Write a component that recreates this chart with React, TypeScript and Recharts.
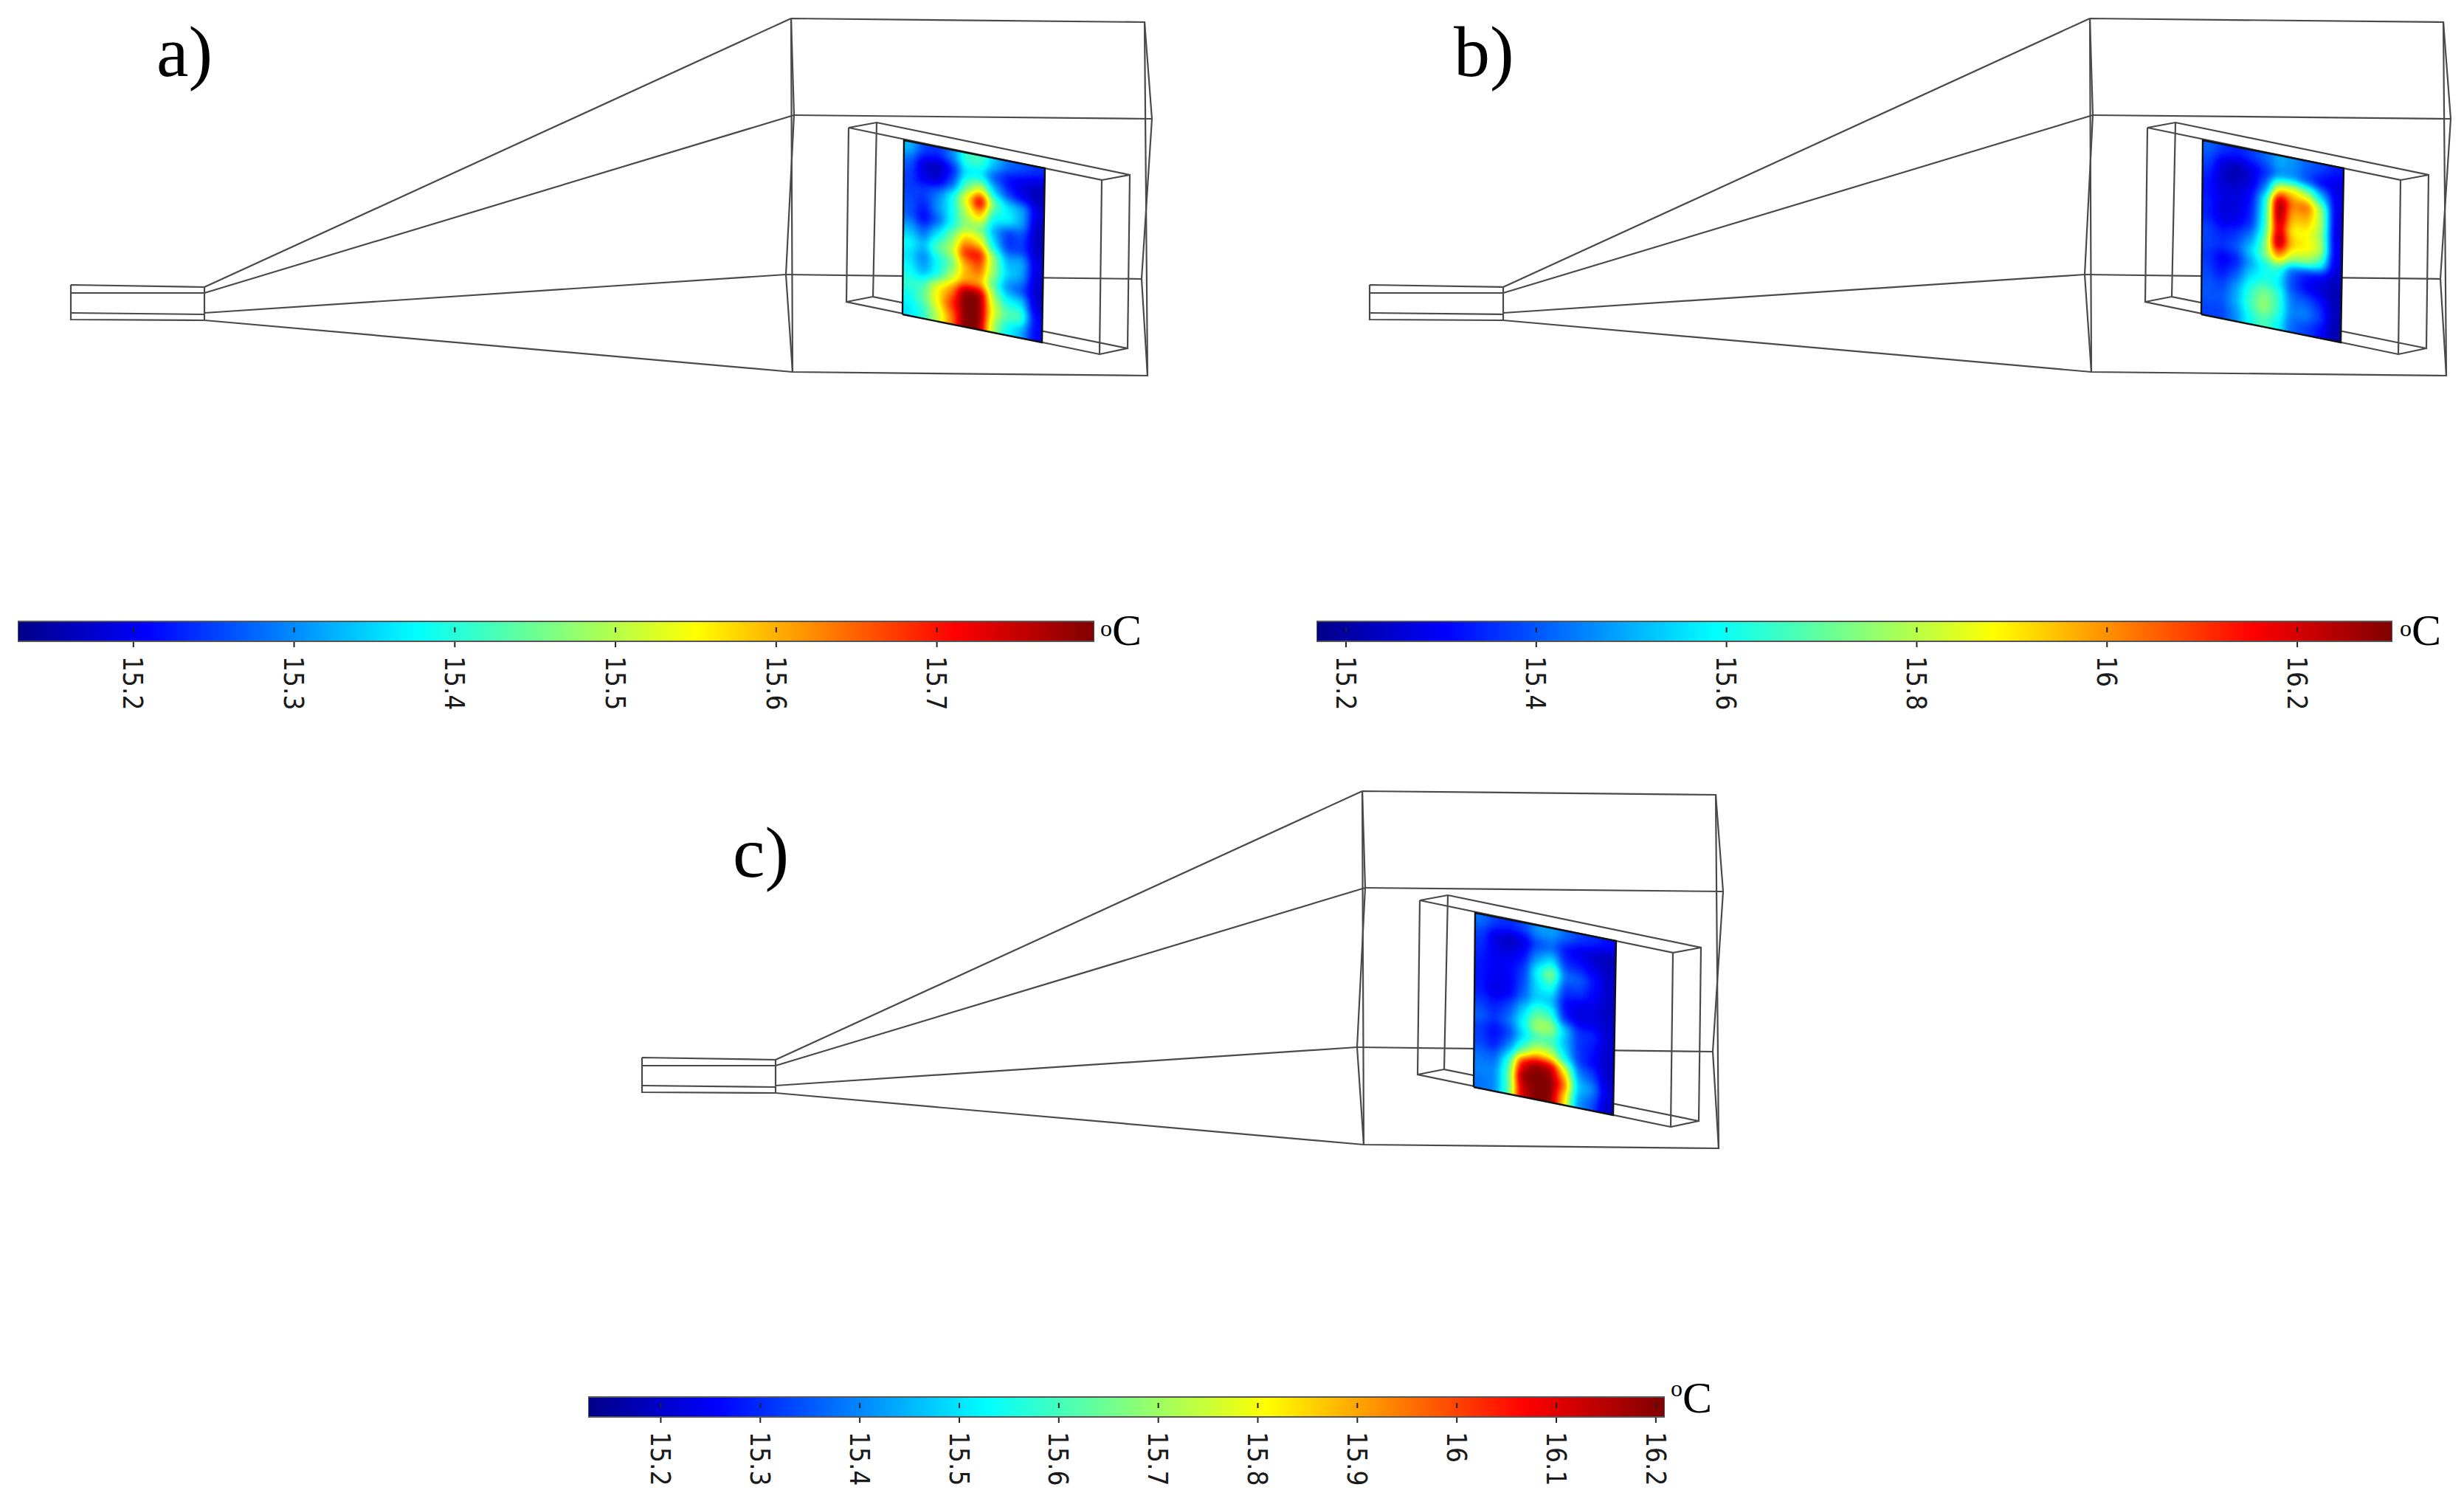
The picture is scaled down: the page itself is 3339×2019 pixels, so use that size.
import { Bar, BarChart, Scatter, ScatterChart, XAxis, YAxis } from "recharts";

const CANVAS_W = 3339;
const CANVAS_H = 2019;
const PANEL_W = 1640;
const PANEL_H = 560;

// wireframe of the model, same for the three panels
const DUCT: number[][][] = [
  [[96, 386], [277, 389], [277, 434], [96, 433], [96, 386]],
  [[96, 397], [277, 397]],
  [[96, 424], [277, 426]],
];
const CONE: number[][][] = [
  [[277, 389], [1072, 25]],
  [[277, 397], [1076, 156]],
  [[277, 424], [1065, 372]],
  [[277, 434], [1074, 504]],
];
const BOX: number[][][] = [
  [[1072, 25], [1551, 30], [1555, 509], [1074, 504], [1072, 25]],
  [[1072, 25], [1076, 156], [1065, 372], [1074, 504]],
  [[1551, 30], [1561, 161], [1547, 378], [1555, 509]],
  [[1076, 156], [1561, 161]],
  [[1065, 372], [1547, 378]],
];
const INNER_BOX: number[][][] = [
  [[1150, 173], [1493, 244], [1490, 480], [1147, 409], [1150, 173]],
  [[1188, 166], [1531, 237], [1528, 472], [1183, 402], [1188, 166]],
  [[1150, 173], [1188, 166]],
  [[1493, 244], [1531, 237]],
  [[1147, 409], [1183, 402]],
  [[1490, 480], [1528, 472]],
];
const PLATE = [[1225, 190], [1416, 228], [1412, 464], [1223, 426]];

// temperature on the plate, rows top to bottom, degrees C
const TEMPS_A = [
  [15.33, 15.25, 15.24, 15.3, 15.42, 15.42, 15.34, 15.28, 15.26, 15.24],
  [15.27, 15.18, 15.16, 15.22, 15.36, 15.36, 15.26, 15.21, 15.19, 15.17],
  [15.25, 15.19, 15.18, 15.26, 15.44, 15.52, 15.34, 15.24, 15.19, 15.16],
  [15.25, 15.25, 15.29, 15.38, 15.55, 15.76, 15.45, 15.36, 15.32, 15.19],
  [15.26, 15.23, 15.31, 15.38, 15.5, 15.6, 15.38, 15.38, 15.32, 15.17],
  [15.27, 15.2, 15.27, 15.38, 15.47, 15.46, 15.32, 15.24, 15.26, 15.16],
  [15.33, 15.27, 15.36, 15.46, 15.6, 15.56, 15.36, 15.24, 15.25, 15.17],
  [15.38, 15.33, 15.44, 15.5, 15.7, 15.72, 15.48, 15.32, 15.33, 15.19],
  [15.36, 15.29, 15.38, 15.44, 15.6, 15.66, 15.48, 15.35, 15.32, 15.18],
  [15.38, 15.32, 15.38, 15.5, 15.6, 15.6, 15.44, 15.3, 15.26, 15.17],
  [15.41, 15.42, 15.55, 15.62, 15.8, 15.8, 15.5, 15.38, 15.36, 15.18],
  [15.38, 15.44, 15.55, 15.68, 15.84, 15.86, 15.54, 15.44, 15.44, 15.21],
  [15.36, 15.4, 15.5, 15.62, 15.8, 15.82, 15.5, 15.38, 15.33, 15.21],
];
const TEMPS_B = [
  [15.42, 15.36, 15.34, 15.37, 15.42, 15.5, 15.47, 15.41, 15.38, 15.33],
  [15.38, 15.26, 15.22, 15.27, 15.35, 15.46, 15.46, 15.38, 15.3, 15.27],
  [15.34, 15.24, 15.23, 15.27, 15.42, 15.88, 15.9, 15.78, 15.52, 15.28],
  [15.32, 15.27, 15.27, 15.31, 15.58, 16.4, 16.02, 16.06, 15.78, 15.27],
  [15.34, 15.27, 15.27, 15.33, 15.6, 16.3, 15.95, 15.96, 15.8, 15.27],
  [15.34, 15.27, 15.28, 15.35, 15.62, 16.22, 15.88, 15.88, 15.78, 15.27],
  [15.38, 15.33, 15.36, 15.45, 15.68, 16.34, 15.94, 15.9, 15.82, 15.28],
  [15.38, 15.36, 15.4, 15.54, 15.72, 16.02, 15.8, 15.78, 15.66, 15.27],
  [15.36, 15.29, 15.33, 15.48, 15.6, 15.64, 15.4, 15.33, 15.3, 15.24],
  [15.38, 15.32, 15.4, 15.56, 15.62, 15.58, 15.38, 15.3, 15.26, 15.22],
  [15.4, 15.38, 15.48, 15.64, 15.74, 15.66, 15.43, 15.4, 15.34, 15.23],
  [15.4, 15.4, 15.5, 15.66, 15.78, 15.66, 15.45, 15.46, 15.38, 15.23],
  [15.38, 15.38, 15.46, 15.6, 15.68, 15.6, 15.42, 15.38, 15.32, 15.22],
];
const TEMPS_C = [
  [15.38, 15.32, 15.3, 15.33, 15.42, 15.43, 15.37, 15.32, 15.3, 15.27],
  [15.32, 15.22, 15.18, 15.22, 15.33, 15.36, 15.27, 15.23, 15.2, 15.18],
  [15.3, 15.24, 15.22, 15.27, 15.42, 15.5, 15.3, 15.28, 15.23, 15.19],
  [15.28, 15.25, 15.26, 15.31, 15.54, 15.7, 15.38, 15.36, 15.28, 15.2],
  [15.28, 15.24, 15.25, 15.33, 15.5, 15.56, 15.31, 15.32, 15.26, 15.2],
  [15.28, 15.22, 15.25, 15.36, 15.48, 15.46, 15.26, 15.23, 15.23, 15.19],
  [15.32, 15.28, 15.33, 15.47, 15.62, 15.58, 15.28, 15.22, 15.23, 15.2],
  [15.36, 15.31, 15.38, 15.53, 15.72, 15.72, 15.48, 15.31, 15.3, 15.21],
  [15.32, 15.26, 15.32, 15.48, 15.6, 15.6, 15.46, 15.31, 15.28, 15.2],
  [15.33, 15.28, 15.4, 15.62, 15.8, 15.76, 15.52, 15.32, 15.26, 15.2],
  [15.38, 15.36, 15.56, 16.08, 16.2, 16.16, 15.82, 15.4, 15.33, 15.2],
  [15.4, 15.4, 15.62, 16.2, 16.28, 16.28, 15.98, 15.47, 15.42, 15.22],
  [15.38, 15.4, 15.6, 16.12, 16.22, 16.22, 15.86, 15.42, 15.35, 15.2],
];

const TICKS_A = [15.2, 15.3, 15.4, 15.5, 15.6, 15.7];
const TICKS_B = [15.2, 15.4, 15.6, 15.8, 16, 16.2];
const TICKS_C = [15.2, 15.3, 15.4, 15.5, 15.6, 15.7, 15.8, 15.9, 16, 16.1, 16.2];

// jet colour map: position, r, g, b
const JET = [
  [0, 0, 0, 135],
  [0.12, 0, 0, 255],
  [0.37, 0, 255, 255],
  [0.5, 128, 255, 128],
  [0.63, 255, 255, 0],
  [0.87, 255, 0, 0],
  [1, 128, 0, 0],
];

function jetAt(t: number) {
  let i = 0;
  while (i < JET.length - 2 && t > JET[i + 1][0]) i++;
  const a = JET[i];
  const b = JET[i + 1];
  const f = (t - a[0]) / (b[0] - a[0]);
  return [1, 2, 3].map((c) => (a[c] + (b[c] - a[c]) * f) / 255);
}

const TABLE_STEPS = Array.from({ length: 101 }, (_, i) => jetAt(i / 100));
const tableFor = (c: number) => TABLE_STEPS.map((v) => v[c].toFixed(3)).join(" ");

function platePoints(temps: number[][], min: number, max: number) {
  const rows = temps.length;
  const cols = temps[0].length;
  const [p0, p1, p2, p3] = PLATE;
  return temps.flatMap((row, j) =>
    row.map((t, i) => {
      const u = (i + 0.5) / cols;
      const v = (j + 0.5) / rows;
      const tx = p0[0] + (p1[0] - p0[0]) * u;
      const ty = p0[1] + (p1[1] - p0[1]) * u;
      const bx = p3[0] + (p2[0] - p3[0]) * u;
      const by = p3[1] + (p2[1] - p3[1]) * u;
      return {
        x: tx + (bx - tx) * v,
        y: ty + (by - ty) * v,
        // readings above the bar's end are kept, the grey level just saturates
        level: Math.min(255, Math.round(((t - min) / (max - min)) * 255)),
      };
    })
  );
}

function HeatCell({ cx, cy, payload }: any) {
  const w = 10.5;
  const h = 10;
  const s = w * 0.2;
  const g = payload.level;
  return (
    <polygon
      points={`${cx - w},${cy - h - s} ${cx + w},${cy - h + s} ${cx + w},${cy + h + s} ${cx - w},${cy + h - s}`}
      fill={`rgb(${g},${g},${g})`}
    />
  );
}

const NoDot = () => null;
const toPoints = (path: number[][]) => path.map(([x, y]) => ({ x, y }));

function Panel({
  id,
  left,
  top,
  temps,
  min,
  max,
}: {
  id: string;
  left: number;
  top: number;
  temps: number[][];
  min: number;
  max: number;
}) {
  const wires = [...DUCT, ...CONE, ...BOX, ...INNER_BOX];
  const outline = [PLATE[3], PLATE[0], PLATE[1], PLATE[2], PLATE[3]];
  return (
    <div style={{ position: "absolute", left, top }}>
      <style>{`.heat-${id}{filter:url(#jet-filter-${id});clip-path:url(#plate-clip-${id});}`}</style>
      <ScatterChart
        width={PANEL_W}
        height={PANEL_H}
        margin={{ top: 0, right: 0, bottom: 0, left: 0 }}
      >
        <defs>
          <filter
            id={`jet-filter-${id}`}
            x="-10%"
            y="-10%"
            width="120%"
            height="120%"
            colorInterpolationFilters="sRGB"
          >
            <feGaussianBlur stdDeviation="7" />
            <feComponentTransfer>
              <feFuncR type="table" tableValues={tableFor(0)} />
              <feFuncG type="table" tableValues={tableFor(1)} />
              <feFuncB type="table" tableValues={tableFor(2)} />
              <feFuncA type="linear" slope="40" />
            </feComponentTransfer>
          </filter>
          <clipPath id={`plate-clip-${id}`}>
            <polygon points={PLATE.map((p) => p.join(",")).join(" ")} />
          </clipPath>
        </defs>
        <XAxis type="number" dataKey="x" domain={[0, PANEL_W]} hide />
        <YAxis type="number" dataKey="y" domain={[0, PANEL_H]} reversed hide />
        {wires.map((path, i) => (
          <Scatter
            key={i}
            data={toPoints(path)}
            line={{ stroke: "#4a4a4a", strokeWidth: 2.2 }}
            shape={NoDot}
            isAnimationActive={false}
          />
        ))}
        <Scatter
          className={`heat-${id}`}
          data={platePoints(temps, min, max)}
          shape={HeatCell}
          isAnimationActive={false}
        />
        <Scatter
          data={toPoints(outline)}
          line={{ stroke: "#111", strokeWidth: 2.4 }}
          shape={NoDot}
          isAnimationActive={false}
        />
      </ScatterChart>
    </div>
  );
}

function ColourTick({ x, y, payload }: any) {
  const barH = 27;
  return (
    <g>
      <line x1={x} x2={x} y1={y - barH} y2={y - barH + 7} stroke="#222" strokeWidth={2} />
      <line x1={x} x2={x} y1={y - 7} y2={y} stroke="#222" strokeWidth={2} />
      <text
        transform={`translate(${x},${y + 12}) rotate(90) scale(1,1.12)`}
        dy="0.36em"
        textAnchor="start"
        fontFamily="'DejaVu Sans'"
        fontSize={33}
        fill="#1a1a1a"
      >
        {payload.value}
      </text>
    </g>
  );
}

function ColourBar({
  id,
  left,
  right,
  top,
  min,
  max,
  ticks,
}: {
  id: string;
  left: number;
  right: number;
  top: number;
  min: number;
  max: number;
  ticks: number[];
}) {
  const pad = 4;
  return (
    <div style={{ position: "absolute", left: left - pad, top: top - pad }}>
      <BarChart
        layout="vertical"
        width={right - left + pad * 2}
        height={27 + pad + 104}
        data={[{ name: "T", value: max }]}
        margin={{ top: pad, right: pad, bottom: 0, left: pad }}
        barCategoryGap={0}
        style={{ overflow: "visible" }}
      >
        <defs>
          <linearGradient id={`jet-bar-${id}`} x1="0" y1="0" x2="1" y2="0">
            {JET.map((s) => (
              <stop key={s[0]} offset={s[0]} stopColor={`rgb(${s[1]},${s[2]},${s[3]})`} />
            ))}
          </linearGradient>
        </defs>
        <XAxis
          type="number"
          domain={[min, max]}
          ticks={ticks}
          interval={0}
          height={104}
          axisLine={false}
          tickLine={false}
          tick={ColourTick}
          allowDataOverflow
        />
        <YAxis type="category" dataKey="name" hide />
        <Bar
          dataKey="value"
          fill={`url(#jet-bar-${id})`}
          stroke="#555"
          strokeWidth={2}
          isAnimationActive={false}
        />
      </BarChart>
    </div>
  );
}

function PanelLabel({ text, left, top }: { text: string; left: number; top: number }) {
  return (
    <div
      style={{
        position: "absolute",
        left,
        top,
        fontFamily: "'Liberation Serif'",
        fontSize: 98,
        lineHeight: 1,
        color: "#000",
      }}
    >
      {text}
    </div>
  );
}

function Unit({ left, top, raised }: { left: number; top: number; raised: number }) {
  return (
    <div
      style={{
        position: "absolute",
        left,
        top,
        fontFamily: "'Liberation Serif'",
        fontSize: 60,
        lineHeight: 1,
        color: "#000",
        whiteSpace: "nowrap",
      }}
    >
      <span style={{ fontSize: 32, position: "relative", top: -raised }}>o</span>C
    </div>
  );
}

export default function App() {
  return (
    <div
      style={{
        position: "absolute",
        left: 0,
        top: 0,
        width: CANVAS_W,
        height: CANVAS_H,
        background: "#fff",
        overflow: "hidden",
      }}
    >
      <Panel id="a" left={0} top={0} temps={TEMPS_A} min={15.129} max={15.799} />
      <Panel id="b" left={1760} top={0} temps={TEMPS_B} min={15.171} max={16.302} />
      <Panel id="c" left={774} top={1047} temps={TEMPS_C} min={15.128} max={16.21} />

      <ColourBar id="a" left={24} right={1483} top={842} min={15.128} max={15.798} ticks={TICKS_A} />
      <ColourBar id="b" left={1784} right={3242} top={842} min={15.169} max={16.3} ticks={TICKS_B} />
      <ColourBar id="c" left={797} right={2256} top={1893} min={15.127} max={16.209} ticks={TICKS_C} />

      <PanelLabel text="a)" left={212} top={21} />
      <PanelLabel text="b)" left={1970} top={21} />
      <PanelLabel text="c)" left={993} top={1106} />

      <Unit left={1491} top={824} raised={12} />
      <Unit left={3252} top={824} raised={12} />
      <Unit left={2264} top={1864} raised={22} />
    </div>
  );
}
